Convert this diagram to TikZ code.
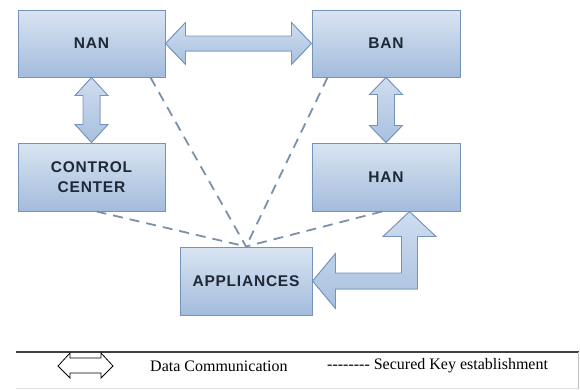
\documentclass[tikz,border=0pt]{standalone}
\usepackage{fontspec}
\setsansfont{Liberation Sans}
\newfontfamily\legfont{Liberation Serif}
\usetikzlibrary{calc}
\definecolor{boxtop}{HTML}{D9E4F2}
\definecolor{boxbot}{HTML}{A3BCDC}
\definecolor{boxline}{HTML}{7592BA}
\definecolor{arrtop}{HTML}{CFDDEF}
\definecolor{arrbot}{HTML}{A8C0DF}
\definecolor{dashc}{HTML}{7D90AA}
\definecolor{txt}{HTML}{1E2836}
\newcommand\hy{-\kern0pt}
\tikzset{
  netbox/.style={draw=boxline, line width=1pt, top color=boxtop, bottom color=boxbot,
    minimum height=67pt, inner sep=0pt, text=txt, align=center,
    font=\sffamily\bfseries\fontsize{15.5}{20}\selectfont\addfontfeature{LetterSpace=5}},
  keyline/.style={draw=dashc, line width=1.8pt, dash pattern=on 10pt off 7pt},
  blockarrow/.style={draw=boxline, line width=0.9pt, top color=arrtop, bottom color=arrbot, line join=miter},
  legtext/.style={anchor=west, inner sep=0pt, font=\legfont\fontsize{16}{18}\selectfont},
}
\begin{document}
\begin{tikzpicture}[x=1pt,y=-1pt]
\useasboundingbox (0,0) rectangle (580,389);
% boxes
\node[netbox, minimum width=147pt] (nan) at (91.5,43.5) {NAN};
\node[netbox, minimum width=148pt] (ban) at (386,43.5) {BAN};
\node[netbox, minimum width=147pt, minimum height=68pt] (cc) at (91.5,177) {CONTROL\\CENTER};
\node[netbox, minimum width=148pt, minimum height=68pt] (han) at (386,177) {HAN};
\node[netbox, minimum width=132pt, minimum height=68pt] (app) at (246,281) {APPLIANCES};
% dashed key lines
\draw[keyline] ([xshift=-15pt]nan.south east) -- (app.north);
\draw[keyline] ([xshift=16pt]ban.south west) -- (app.north);
\draw[keyline] ([xshift=5pt]cc.south) -- (app.north);
\draw[keyline] ([xshift=-4pt]han.south) -- (app.north);
% NAN <-> BAN
\coordinate (h1) at (nan.east);
\coordinate (h2) at (ban.west);
\filldraw[blockarrow] (h1) -- ++(20,-21) -- ++(0,13.5) -- ($(h2)+(-20,-7.5)$) -- ++(0,-13.5) -- (h2)
  -- ++(-20,21) -- ++(0,-13.5) -- ($(h1)+(20,7.5)$) -- ++(0,13.5) -- cycle;
% NAN <-> CONTROL CENTER
\coordinate (v1) at (nan.south);
\coordinate (v2) at (cc.north);
\filldraw[blockarrow] (v1) -- ++(16.5,18) -- ++(-8,0) -- ($(v2)+(8.5,-18)$) -- ++(8,0) -- (v2)
  -- ++(-16.5,-18) -- ++(8,0) -- ($(v1)+(-8.5,18)$) -- ++(-8,0) -- cycle;
% BAN <-> HAN
\coordinate (w1) at (ban.south);
\coordinate (w2) at (han.north);
\filldraw[blockarrow] (w1) -- ++(16.5,17) -- ++(-8,0) -- ($(w2)+(8.5,-17)$) -- ++(8,0) -- (w2)
  -- ++(-16.5,-17) -- ++(8,0) -- ($(w1)+(-8.5,17)$) -- ++(-8,0) -- cycle;
% HAN <-> APPLIANCES (elbow)
\coordinate (U) at ($(han.south)+(23.5,0)$);
\coordinate (A) at (app.east);
\coordinate (K) at (U |- A);
\filldraw[blockarrow] (U) -- ($(U)+(26.5,25)$) -- ($(U)+(8,25)$) -- ($(K)+(8,8)$) -- ($(A)+(23,8)$)
  -- ($(A)+(23,27.5)$) -- (A) -- ($(A)+(23,-27.5)$) -- ($(A)+(23,-8)$) -- ($(K)+(-8,-8)$)
  -- ($(U)+(-8,25)$) -- ($(U)+(-26.5,25)$) -- cycle;
% legend frame
\draw[line width=1.2pt, black!75] (16,352) -- (579,352);
\draw[line width=0.6pt, black!25] (578,352) -- (578,389);
\draw[line width=0.6pt, black!12] (16,388) -- (578,388);
% legend arrow
\coordinate (la) at (58,366);
\coordinate (lb) at (113,366);
\draw[line width=0.8pt, line join=miter] (la) -- (70,353) -- (70,358) -- (101,358) -- (101,353) -- (lb)
  -- (101,378) -- (101,373) -- (70,373) -- (70,378) -- cycle;
\node[legtext] (l1) at (150,366) {Data Communication};
\node[legtext] (l2) at (327,366) {\hy\hy\hy\hy\hy\hy\hy\hy{} Secured Key establishment};
\end{tikzpicture}
\end{document}
